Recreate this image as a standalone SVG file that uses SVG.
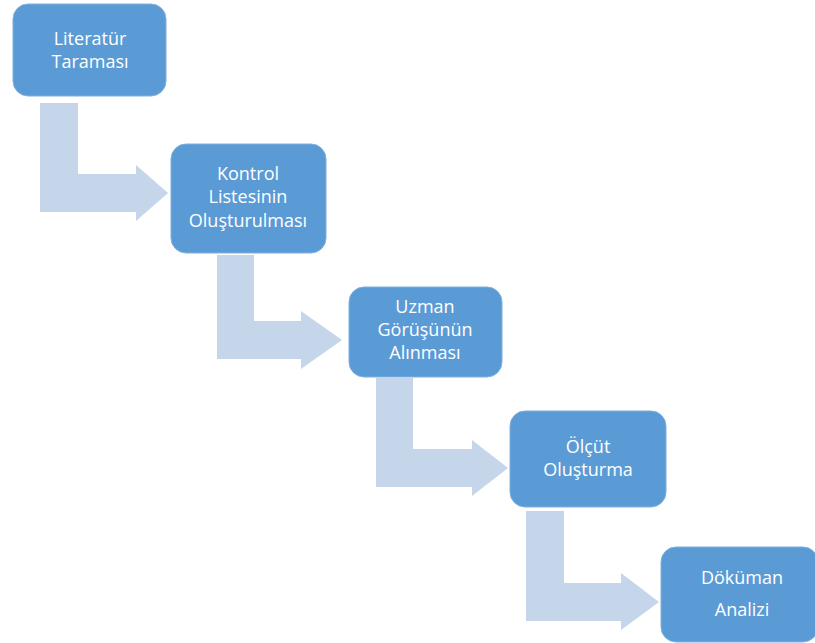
<svg xmlns="http://www.w3.org/2000/svg" width="815" height="643" viewBox="0 0 815 643">
<style>
.box{fill:#5B9BD5;stroke:#7FB0DE;stroke-width:1}
.arr{fill:#C5D5EA}
.t{font-family:"Open Sans","Liberation Sans",sans-serif;font-size:18px;fill:#FFFFFF;text-anchor:middle}
</style>
<rect width="815" height="643" fill="#FFFFFF"/>
<g id="connectors">
<path class="arr" d="M40,103 H78 V174 H136 V165 L168,193 L136,221 V212 H40 Z"/>
<path class="arr" d="M217,255 H254 V321 H301 V311 L342,340 L301,369 V359 H217 Z"/>
<path class="arr" d="M376,378 H413 V449 H472 V440 L508,468 L472,496 V487 H376 Z"/>
<path class="arr" d="M526,511 H564 V583 H621 V573 L659,602 L621,630 V621 H526 Z"/>
</g>
<g id="n1">
<rect class="box" x="13" y="4" width="153" height="92" rx="15"/>
<text class="t" x="90" y="45">Literatür</text>
<text class="t" x="90" y="68">Taraması</text>
</g>
<g id="n2">
<rect class="box" x="171" y="144" width="155" height="109" rx="15"/>
<text class="t" x="248" y="180">Kontrol</text>
<text class="t" x="248" y="203">Listesinin</text>
<text class="t" x="248" y="227">Oluşturulması</text>
</g>
<g id="n3">
<rect class="box" x="349" y="287" width="153" height="90" rx="15"/>
<text class="t" x="425" y="313">Uzman</text>
<text class="t" x="425" y="336">Görüşünün</text>
<text class="t" x="425" y="359">Alınması</text>
</g>
<g id="n4">
<rect class="box" x="510" y="411" width="156" height="96" rx="15"/>
<text class="t" x="588" y="453">Ölçüt</text>
<text class="t" x="588" y="476">Oluşturma</text>
</g>
<g id="n5">
<rect class="box" x="661" y="547" width="157" height="95" rx="15"/>
<text class="t" x="742" y="584">Döküman</text>
<text class="t" x="742" y="616">Analizi</text>
</g>
</svg>
